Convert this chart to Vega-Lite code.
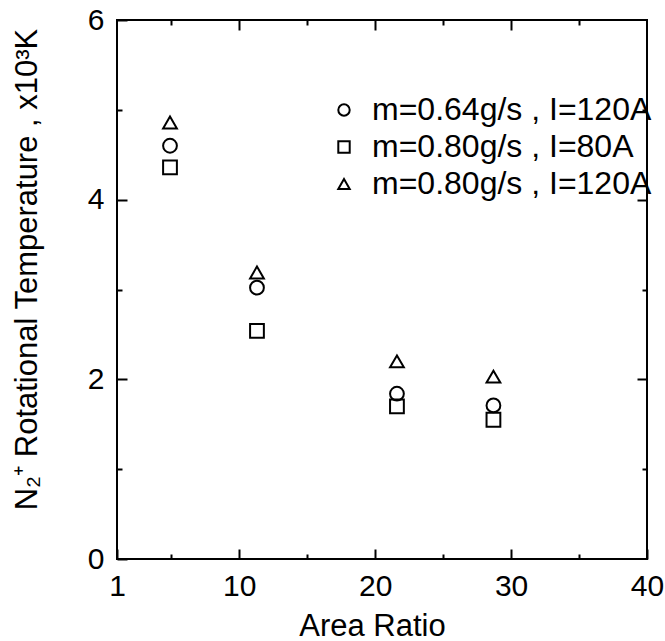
{
  "$schema": "https://vega.github.io/schema/vega-lite/v6.json",
  "width": 530,
  "height": 539,
  "autosize": {"type": "none"},
  "padding": {"left": 117, "top": 20, "right": 18, "bottom": 82},
  "background": "white",
  "config": {
    "view": {"stroke": "black", "strokeWidth": 2},
    "font": "Liberation Sans",
    "axis": {
      "domain": false,
      "grid": false,
      "tickColor": "black",
      "tickWidth": 2,
      "labelColor": "black",
      "titleColor": "black",
      "labelFont": "Liberation Sans",
      "titleFont": "Liberation Sans",
      "labelFontSize": 30,
      "titleFontSize": 31,
      "titleFontWeight": "normal",
      "labelFlush": false,
      "labelOverlap": false,
      "labelBound": false
    },
    "legend": {
      "labelFont": "Liberation Sans",
      "labelFontSize": 32,
      "labelColor": "black",
      "symbolSize": 130,
      "symbolStrokeWidth": 2,
      "symbolStrokeColor": "black",
      "labelOffset": 12,
      "rowPadding": 5,
      "padding": 0,
      "labelLimit": 400
    }
  },
  "data": {
    "values": [
      {"ratio": 4.9, "temp": 4.60, "cond": "m=0.64g/s , I=120A"},
      {"ratio": 4.9, "temp": 4.36, "cond": "m=0.80g/s , I=80A"},
      {"ratio": 4.9, "temp": 4.86, "cond": "m=0.80g/s , I=120A"},
      {"ratio": 11.3, "temp": 3.02, "cond": "m=0.64g/s , I=120A"},
      {"ratio": 11.3, "temp": 2.54, "cond": "m=0.80g/s , I=80A"},
      {"ratio": 11.3, "temp": 3.19, "cond": "m=0.80g/s , I=120A"},
      {"ratio": 21.6, "temp": 1.84, "cond": "m=0.64g/s , I=120A"},
      {"ratio": 21.6, "temp": 1.70, "cond": "m=0.80g/s , I=80A"},
      {"ratio": 21.6, "temp": 2.20, "cond": "m=0.80g/s , I=120A"},
      {"ratio": 28.7, "temp": 1.71, "cond": "m=0.64g/s , I=120A"},
      {"ratio": 28.7, "temp": 1.55, "cond": "m=0.80g/s , I=80A"},
      {"ratio": 28.7, "temp": 2.03, "cond": "m=0.80g/s , I=120A"}
    ]
  },
  "layer": [
    {
      "mark": {"type": "point", "filled": false, "stroke": "black", "strokeWidth": 2, "size": 190, "opacity": 1},
      "encoding": {
        "x": {
          "field": "ratio", "type": "quantitative",
          "scale": {"domain": [1, 40], "nice": false, "zero": false},
          "axis": {
            "orient": "bottom", "values": [1, 10, 20, 30, 40], "tickSize": -10,
            "labelPadding": 46, "labelBaseline": "alphabetic",
            "title": "Area Ratio", "titleX": 255, "titleY": 76, "titleBaseline": "alphabetic", "titleAlign": "center"
          }
        },
        "y": {
          "field": "temp", "type": "quantitative",
          "scale": {"domain": [0, 6], "nice": false, "zero": false},
          "axis": {
            "orient": "left", "values": [0, 2, 4, 6], "tickSize": -10,
            "labelPadding": 23,
            "title": "N₂⁺ Rotational Temperature , x10³K", "titleAngle": -90,
            "titleX": -81, "titleY": 249, "titleBaseline": "alphabetic", "titleAlign": "center"
          }
        },
        "shape": {
          "field": "cond", "type": "nominal",
          "scale": {
            "domain": ["m=0.64g/s , I=120A", "m=0.80g/s , I=80A", "m=0.80g/s , I=120A"],
            "range": ["circle", "square", "triangle-up"]
          },
          "legend": {"title": null, "orient": "none", "legendX": 211, "legendY": 74}
        }
      }
    },
    {
      "mark": {"type": "point", "opacity": 0},
      "encoding": {
        "x": {"field": "ratio", "type": "quantitative",
          "axis": {"orient": "top", "values": [10, 20, 30], "tickSize": -10, "labels": false, "title": null}},
        "y": {"field": "temp", "type": "quantitative",
          "axis": {"orient": "right", "values": [2, 4], "tickSize": -10, "labels": false, "title": null}}
      }
    },
    {
      "mark": {"type": "point", "opacity": 0},
      "encoding": {
        "x": {"field": "ratio", "type": "quantitative",
          "axis": {"orient": "bottom", "values": [5, 15, 25, 35], "tickSize": -5, "labels": false, "title": null}},
        "y": {"field": "temp", "type": "quantitative",
          "axis": {"orient": "left", "values": [1, 3, 5], "tickSize": -5, "labels": false, "title": null}}
      }
    },
    {
      "mark": {"type": "point", "opacity": 0},
      "encoding": {
        "x": {"field": "ratio", "type": "quantitative",
          "axis": {"orient": "top", "values": [5, 15, 25, 35], "tickSize": -5, "labels": false, "title": null}},
        "y": {"field": "temp", "type": "quantitative",
          "axis": {"orient": "right", "values": [1, 3, 5], "tickSize": -5, "labels": false, "title": null}}
      }
    }
  ],
  "resolve": {"axis": {"x": "independent", "y": "independent"}}
}
